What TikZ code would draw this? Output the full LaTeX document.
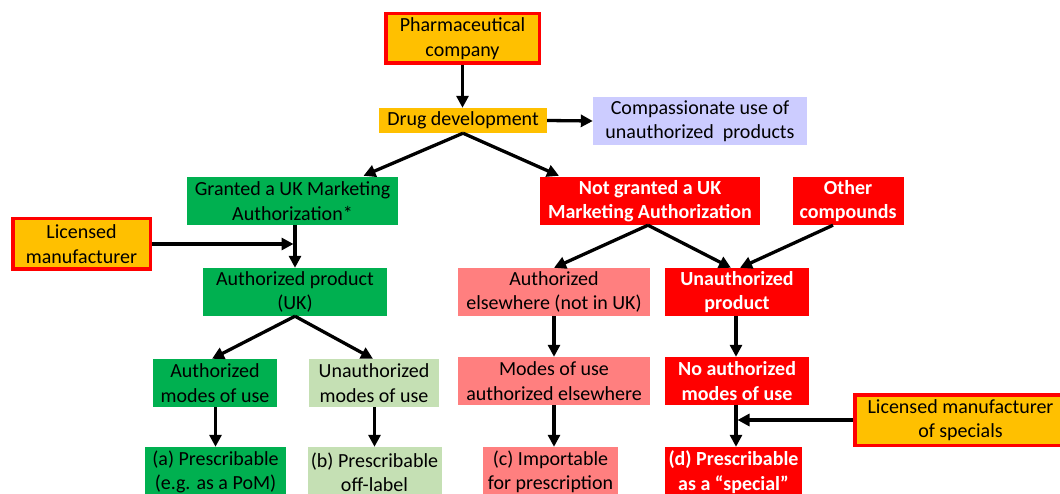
\documentclass[tikz,border=0pt]{standalone}
\usepackage{fontspec}
\setmainfont{Carlito}
\usetikzlibrary{arrows.meta}
\definecolor{corange}{HTML}{FFC000}
\definecolor{cred}{HTML}{FF0000}
\definecolor{cgreen}{HTML}{00B050}
\definecolor{clgreen}{HTML}{C5E0B4}
\definecolor{cpink}{HTML}{FF7F7F}
\definecolor{clav}{HTML}{CCCCFF}
\tikzset{
  box/.style={rectangle, inner sep=0pt, align=center, font=\fontsize{20}{24.4}\selectfont},
  orangebox/.style={box, fill=corange, draw=cred, line width=3.5pt},
  plainorange/.style={box, fill=corange},
  lavbox/.style={box, fill=clav},
  greenbox/.style={box, fill=cgreen},
  lgreenbox/.style={box, fill=clgreen},
  pinkbox/.style={box, fill=cpink},
  redbox/.style={box, fill=cred, text=white, font=\fontsize{20}{24.4}\selectfont\bfseries},
  arr/.style={line width=3.3pt, -{Triangle[length=12pt,width=12pt]}},
}
\begin{document}
\begin{tikzpicture}[x=1pt,y=-1pt]
\path[use as bounding box, clip] (0,0) rectangle (1060,494);
\fill[white] (0,0) rectangle (1060,494);

\node[orangebox, minimum width=153.5pt, minimum height=49.5pt] (pharma) at (462.5,38.5) {Pharmaceutical\\company};
\node[plainorange, minimum width=168pt, minimum height=25pt] (drug) at (463,120.5) {Drug development};
\node[lavbox, minimum width=214pt, minimum height=48pt] (comp) at (700,121) {Compassionate use of\\unauthorized\ \ products};

\node[greenbox, minimum width=211pt, minimum height=48pt] (granted) at (292.5,201) {Granted a UK Marketing\\Authorization*};
\node[orangebox, minimum width=137.5pt, minimum height=50.5pt] (licensed) at (81.5,244) {Licensed\\manufacturer};
\node[greenbox, minimum width=184pt, minimum height=48pt] (authprod) at (295,292) {Authorized product\\(UK)};

\node[redbox, minimum width=220pt, minimum height=48pt] (notgr) at (650,201) {Not granted a UK\\Marketing Authorization};
\node[redbox, minimum width=111pt, minimum height=48pt] (other) at (848,201) {Other\\compounds};
\node[pinkbox, minimum width=192pt, minimum height=48pt] (authelse) at (554,292) {Authorized\\elsewhere (not in UK)};
\node[redbox, minimum width=144pt, minimum height=48pt] (unauthprod) at (737,292) {Unauthorized\\product};

\node[greenbox, minimum width=124pt, minimum height=48pt] (authmodes) at (215,383) {Authorized\\modes of use};
\node[lgreenbox, minimum width=130pt, minimum height=48pt] (unauthmodes) at (374,383) {Unauthorized\\modes of use};
\node[pinkbox, minimum width=192pt, minimum height=48pt] (modeselse) at (554,381) {Modes of use\\authorized elsewhere};
\node[redbox, minimum width=144pt, minimum height=48pt] (noauth) at (737,381) {No authorized\\modes of use};
\node[orangebox, minimum width=211.5pt, minimum height=50.5pt] (specials) at (960.5,420) {Licensed manufacturer\\of specials};

\node[greenbox, minimum width=141pt, minimum height=50pt] (pa) at (215.5,472) {(a) Prescribable\\(e.g. as a PoM)};
\node[lgreenbox, minimum width=134pt, minimum height=50pt] (pb) at (374.5,472) {(b) Prescribable\\off-label};
\node[pinkbox, minimum width=135pt, minimum height=50pt] (pc) at (550.5,472) {(c) Importable\\for prescription};
\node[redbox, minimum width=137pt, minimum height=50pt] (pd) at (733.5,472) {(d) Prescribable\\as a \textquotedblleft special\textquotedblright};

\draw[arr] (pharma.south) -- (pharma.south |- drug.north);
\draw[arr] (drug.east) -- (comp.west);
\draw[arr] (drug.south) -- ([xshift=71pt,yshift=1pt]granted.north);
\draw[arr] (drug.south) -- ([xshift=-91pt,yshift=1pt]notgr.north);
\draw[arr] (authprod.north |- granted.south) -- (authprod.north);
\draw[arr] (licensed.east) -- ([xshift=-1.5pt]authprod.north |- licensed.east);
\draw[arr] (authprod.south) -- ([xshift=-3pt]authmodes.north);
\draw[arr] (authprod.south) -- ([xshift=-1pt]unauthmodes.north);
\draw[arr] (pa.north |- authmodes.south) -- (pa.north);
\draw[arr] (pb.north |- unauthmodes.south) -- (pb.north);
\draw[arr] ([xshift=-2pt]notgr.south) -- (authelse.north);
\draw[arr] ([xshift=-2pt]notgr.south) -- ([xshift=-6pt]unauthprod.north);
\draw[arr] ([xshift=-15pt]other.south) -- ([xshift=3pt]unauthprod.north);
\draw[arr] (authelse.south) -- (modeselse.north);
\draw[arr] (modeselse.south) -- (modeselse.south |- pc.north);
\draw[arr] ([xshift=-1pt]unauthprod.south) -- ([xshift=-1pt]noauth.north);
\draw[arr] ([xshift=-1pt]noauth.south) -- ([xshift=-1pt]noauth.south |- pd.north);
\draw[arr] (specials.west) -- ([xshift=0.5pt]noauth.south |- specials.west);
\end{tikzpicture}
\end{document}
